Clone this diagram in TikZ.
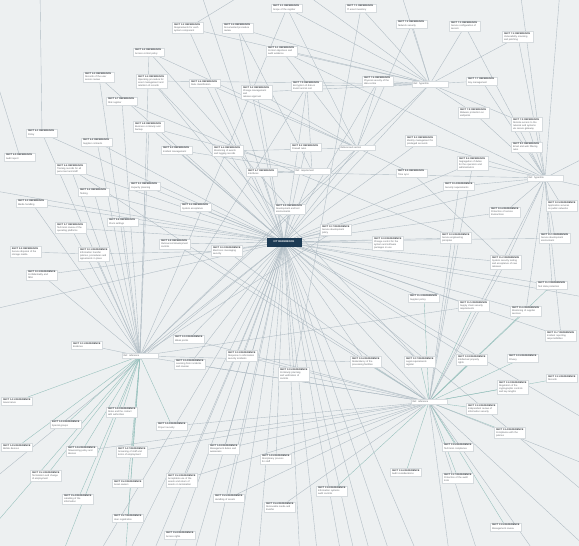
\documentclass[tikz,border=0pt]{standalone}
\usepackage{fontspec}
\setmainfont{Liberation Sans}
\pgfdeclarelayer{bg}
\pgfdeclarelayer{edges}
\pgfsetlayers{bg,edges,main}
\definecolor{canvas}{RGB}{237,240,241}
\definecolor{edgec}{RGB}{176,188,196}
\definecolor{edget}{RGB}{150,192,188}
\definecolor{boxline}{RGB}{214,219,222}
\definecolor{headc}{RGB}{50,55,60}
\definecolor{descc}{RGB}{95,100,105}
\definecolor{hubdark}{RGB}{28,58,84}
\tikzset{
  nbox/.style={draw=boxline, line width=0.25pt, fill=white, inner sep=1.4pt,
    text width=28pt, align=left, font=\fontsize{2.4}{2.9}\selectfont, text=descc},
  hbox/.style={draw=boxline, line width=0.25pt, fill=white, inner sep=1.6pt,
    minimum width=36pt, text width=33pt, align=left, font=\fontsize{2.4}{2.9}\selectfont, text=descc},
  mainhub/.style={fill=hubdark, draw=hubdark, text=white, inner sep=1.6pt,
    minimum width=34pt, minimum height=8pt, font=\bfseries\fontsize{2.6}{3}\selectfont},
  link/.style={draw=edgec, line width=0.38pt},
  tlink/.style={draw=edget, line width=0.38pt}
}
\newcommand{\nb}[5]{\node[nbox] (#1) at (#2,#3) {\textcolor{headc}{\bfseries #4}\\[0.3pt]#5};}
\newcommand{\hb}[4]{\node[hbox] (#1) at (#2,#3) {#4};}
\begin{document}
\begin{tikzpicture}[x=1pt,y=-1pt]
\useasboundingbox (0,0) rectangle (579,546);
\begin{pgfonlayer}{bg}
  \fill[canvas] (0,0) rectangle (579,546);
\end{pgfonlayer}

% ---- hubs ----
\node[mainhub] (C) at (284,242) {ICT REFERENCE};
\hb{H1}{430}{84}{Ref. hyperlink}
\hb{H2}{545}{178}{Ref. hyperlink}
\hb{H3}{140}{356}{Ref. reference}
\hb{H4}{429}{402}{Ref. reference}
\hb{H5}{357}{148}{Referenced section}
\hb{H6}{312}{171}{Ref. requirement}

% ---- upper left ----
\nb{a1}{287}{8}{SECT 2.1 REFERENCE}{Scope of the register}
\nb{a3}{188}{28}{SECT 3.2 REFERENCE}{Requirements for each\\ system component}
\nb{a4}{238}{28}{SECT 3.4 REFERENCE}{Documented procedure\\ review}
\nb{a5}{282}{51}{SECT 5.1 REFERENCE}{Control objectives and\\ audit evidence}
\nb{a6}{149}{52}{SECT 4.2 REFERENCE}{Access control policy}
\nb{a7}{99}{77}{SECT 4.3 REFERENCE}{Records of the user\\ access review}
\nb{a8}{152}{81}{SECT 4.4 REFERENCE}{Operating procedure for\\ asset management and\\ retention of records}
\nb{a9}{205}{83}{SECT 4.6 REFERENCE}{Data classification}
\nb{a10}{257}{92}{SECT 5.2 REFERENCE}{Change management and\\ release approval}
\nb{a11}{122}{101}{SECT 4.7 REFERENCE}{Risk register}
\nb{a12}{149}{127}{SECT 4.8 REFERENCE}{Business continuity and\\ backup}
\nb{a13}{42}{133}{SECT 6.1 REFERENCE}{Policy}
\nb{a14}{97}{142}{SECT 6.2 REFERENCE}{Supplier contracts}
\nb{a15}{177}{150}{SECT 6.3 REFERENCE}{Incident management}
\nb{a16}{228}{151}{SECT 6.4 REFERENCE}{Monitoring of events\\ and logging records}
\nb{a17}{20}{157}{SECT 6.5 REFERENCE}{Audit report}
\nb{a18}{71}{169}{SECT 6.6 REFERENCE}{Training records for all\\ personnel and staff}
\nb{a19}{262}{172}{SECT 6.7 REFERENCE}{Interfaces}

% ---- upper right ----
\nb{a2}{361}{8}{SECT 7.1 REFERENCE}{IT asset inventory}
\nb{b1}{412}{24}{SECT 7.2 REFERENCE}{Network security}
\nb{b2}{465}{26}{SECT 7.3 REFERENCE}{Secure configuration of\\ servers}
\nb{b3}{518}{37}{SECT 7.4 REFERENCE}{Vulnerability scanning\\ and patching}
\nb{b4}{307}{86}{SECT 7.5 REFERENCE}{Encryption of data in\\ transit and at rest}
\nb{b5}{378}{81}{SECT 7.6 REFERENCE}{Physical security of the\\ data centre}
\nb{b6}{482}{81}{SECT 7.7 REFERENCE}{Key management}
\nb{b7}{474}{113}{SECT 7.8 REFERENCE}{Malware protection on\\ endpoints}
\nb{b8}{527}{124}{SECT 7.9 REFERENCE}{Remote access to the\\ network and systems\\ via secure gateway}
\nb{b9}{527}{147}{SECT 8.1 REFERENCE}{Email and web filtering\\ rules}
\nb{b10}{306}{147}{SECT 8.2 REFERENCE}{Firewall rules}
\nb{b11}{421}{141}{SECT 8.3 REFERENCE}{Identity management for\\ privileged accounts}
\nb{b12}{473}{163}{SECT 8.4 REFERENCE}{Segregation of duties\\ for the operators and\\ administrators}
\nb{b13}{412}{173}{SECT 8.5 REFERENCE}{Time sync}

% ---- middle ----
\nb{c1}{145}{186}{SECT 9.1 REFERENCE}{Capacity planning}
\nb{c2}{94}{192}{SECT 9.2 REFERENCE}{Testing}
\nb{c3}{32}{203}{SECT 9.3 REFERENCE}{Media handling}
\nb{c4}{196}{207}{SECT 9.4 REFERENCE}{System acceptance}
\nb{c5}{290}{209}{SECT 9.5 REFERENCE}{Development and test\\ environments}
\nb{c6}{123}{222}{SECT 9.6 REFERENCE}{Clock settings}
\nb{c7}{71}{228}{SECT 9.7 REFERENCE}{Technical review of the\\ operating platforms}
\nb{c8}{175}{244}{SECT 9.8 REFERENCE}{Outsourced development\\ controls}
\nb{c9}{26}{252}{SECT 9.9 REFERENCE}{Secure disposal of the\\ storage media}
\nb{c10}{94}{254}{SECT 10.1 REFERENCE}{Information transfer\\ policies, procedures and\\ agreements in place}
\nb{c11}{227}{251}{SECT 10.2 REFERENCE}{Electronic messaging\\ security}
\nb{c12}{42}{275}{SECT 10.3 REFERENCE}{Confidentiality and\\ NDA}
\nb{d1}{459}{186}{SECT 10.4 REFERENCE}{Security requirements}
\nb{d2}{562}{206}{SECT 10.5 REFERENCE}{Application services\\ on public networks}
\nb{d3}{505}{212}{SECT 10.6 REFERENCE}{Protection of service\\ transactions}
\nb{d4}{336}{230}{SECT 10.7 REFERENCE}{Secure development\\ policy}
\nb{d5}{388}{243}{SECT 10.8 REFERENCE}{Change control for the\\ system and software\\ packages in use}
\nb{d6}{456}{238}{SECT 10.9 REFERENCE}{Secure engineering\\ principles}
\nb{d7}{555}{238}{SECT 11.1 REFERENCE}{Secure development\\ environment}
\nb{d8}{506}{262}{SECT 11.2 REFERENCE}{System security testing\\ and acceptance of new\\ releases}
\nb{d9}{552}{285}{SECT 11.3 REFERENCE}{Test data protection}
\nb{d10}{424}{298}{SECT 11.4 REFERENCE}{Supplier policy}
\nb{d11}{474}{306}{SECT 11.5 REFERENCE}{Supply chain security\\ requirements}
\nb{d12}{526}{311}{SECT 11.6 REFERENCE}{Monitoring of supplier\\ services}
\nb{d13}{561}{336}{SECT 11.7 REFERENCE}{Incident reporting\\ responsibilities}

% ---- lower ----
\nb{c13}{87}{345}{SECT 12.1 REFERENCE}{Evidence}
\nb{c14}{189}{339}{SECT 12.2 REFERENCE}{Weak points}
\nb{c15}{242}{356}{SECT 12.3 REFERENCE}{Response to information\\ security incidents}
\nb{e1}{190}{364}{SECT 12.4 REFERENCE}{Learning from incidents\\ and reviews}
\nb{e2}{294}{374}{SECT 12.5 REFERENCE}{Continuity planning\\ and verification of\\ controls}
\nb{e3}{366}{362}{SECT 12.6 REFERENCE}{Redundancy of the\\ processing facilities}
\nb{e4}{420}{362}{SECT 12.7 REFERENCE}{Legal requirements\\ register}
\nb{e5}{472}{360}{SECT 12.8 REFERENCE}{Intellectual property\\ rights}
\nb{e6}{523}{358}{SECT 12.9 REFERENCE}{Privacy}
\nb{e7}{562}{378}{SECT 13.1 REFERENCE}{Records}
\nb{e8}{513}{387}{SECT 13.2 REFERENCE}{Regulation of the\\ cryptographic controls\\ and key lengths}
\nb{e9}{482}{409}{SECT 13.3 REFERENCE}{Independent review of\\ information security}
\nb{e10}{510}{433}{SECT 13.4 REFERENCE}{Compliance with the\\ policies}
\nb{e11}{458}{447}{SECT 13.5 REFERENCE}{Technical compliance}
\nb{e12}{406}{472}{SECT 13.6 REFERENCE}{Audit considerations}
\nb{e13}{458}{478}{SECT 13.7 REFERENCE}{Protection of the audit\\ tools}
\nb{e14}{332}{491}{SECT 13.8 REFERENCE}{Information systems\\ audit controls}
\nb{e15}{506}{527}{SECT 13.9 REFERENCE}{Management review}
\nb{f1}{17}{401}{SECT 14.1 REFERENCE}{Governance}
\nb{f2}{122}{412}{SECT 14.2 REFERENCE}{Roles and the contact\\ with authorities}
\nb{f3}{66}{424}{SECT 14.3 REFERENCE}{Special groups}
\nb{f4}{172}{426}{SECT 14.4 REFERENCE}{Project security}
\nb{f5}{17}{447}{SECT 14.5 REFERENCE}{Mobile devices}
\nb{f6}{82}{451}{SECT 14.6 REFERENCE}{Teleworking policy and\\ devices}
\nb{f7}{132}{452}{SECT 14.7 REFERENCE}{Screening of staff and\\ terms of employment}
\nb{f8}{224}{449}{SECT 14.8 REFERENCE}{Management duties and\\ awareness}
\nb{f9}{276}{459}{SECT 14.9 REFERENCE}{Disciplinary process\\ for staff}
\nb{f10}{46}{476}{SECT 15.1 REFERENCE}{Termination and change\\ of employment}
\nb{f11}{128}{483}{SECT 15.2 REFERENCE}{Asset owners}
\nb{f12}{182}{480}{SECT 15.3 REFERENCE}{Acceptable use of the\\ assets and return of\\ assets on termination}
\nb{f13}{78}{499}{SECT 15.4 REFERENCE}{Labelling of the\\ information}
\nb{f14}{229}{498}{SECT 15.5 REFERENCE}{Handling of assets}
\nb{f15}{280}{507}{SECT 15.6 REFERENCE}{Removable media and\\ transfer}
\nb{f16}{128}{518}{SECT 15.7 REFERENCE}{User registration}
\nb{f17}{180}{535}{SECT 15.8 REFERENCE}{Access rights}

% ---- far ends of links leaving the view ----
\foreach \i/\x/\y in {1/95/560, 2/125/560, 3/150/560, 4/170/560, 5/192/560, 6/212/560,
  7/236/560, 8/258/560, 9/300/560, 10/318/560, 11/342/560, 12/356/560, 13/392/560,
  14/-10/482, 15/-10/310, 16/-10/190, 17/40/-10, 18/200/-10, 19/600/505, 20/600/428,
  21/600/300, 22/450/560, 23/480/560, 24/60/560, 25/-10/530, 26/300/-10, 27/400/-10,
  28/600/150, 29/600/190, 30/560/-10, 31/520/-10, 32/600/470, 33/372/560, 34/600/560,
  35/-10/60, 36/250/-10, 37/420/560, 38/540/560}
  \coordinate (o\i) at (\x,\y);

\begin{pgfonlayer}{edges}
\begin{scope}
\clip (0,0) rectangle (579,546);
% main hub
\foreach \n in {a3,a4,a8,a9,a10,a12,a14,a15,a16,a19,b4,b5,b10,b11,H5,H6,
  c1,c2,c3,c4,c5,c6,c7,c8,c11,c12,d1,d3,d4,d5,d6,d7,d8,d9,d10,d11,d12,d13,
  e1,e2,e3,e4,e5,H1,H2,H3,H4,c14,c15,f8,f9,f12,f14,a18,a7,b12,a13}
  \draw[link] (C) -- (\n);
\foreach \n in {o1,o2,o3,o4,o5,o6,o7,o8,o9,o10,o11,o12,o13,o14,o15,o16,o18,o19,o20,o21,o33,o37}
  \draw[link] (C) -- (\n);
% lower left hub
\foreach \n in {a7,a11,a12,a14,a18,c1,c2,c3,c6,c7,c10,c12,c13,a6,a13}
  \draw[link] (H3) -- (\n);
\foreach \n in {f1,f2,f3,f4,f6,f7,f10,f11,f13,f16,f5,o24,o25,o2}
  \draw[tlink] (H3) -- (\n);
\foreach \n in {H1,b4,H5,d4,d11,H4,e3}
  \draw[link] (H3) -- (\n);
% lower right hub
\foreach \n in {e3,e4,e5,e6,e7,e8,e9,e10,e11,e12,e13,e14,e15,d10,d11,d12,d9}
  \draw[tlink] (H4) -- (\n);
\foreach \n in {f8,f9,f12,f14,f15,e1,e2,c15,c14,f4,f7,f6,d1,d6,H2,d8,b12,
  o22,o23,o32,o34,o38,c8,c11}
  \draw[link] (H4) -- (\n);
% upper hubs
\foreach \n in {b1,b2,b3,b5,b6,a1,a2,a4,a3,a8,a10,b4,b8,b7,a5,o26,o27}
  \draw[link] (H1) -- (\n);
\foreach \n in {b7,b8,b9,b12,d1,d2,d3,d7,d8,d9,d12,b2,b3,b6,b11,a5,a19,d13,o28,o29,o30,o31}
  \draw[link] (H2) -- (\n);
\foreach \n in {a5,a10,a16,b5,a9,b1,a6,a1}
  \draw[link] (H5) -- (\n);
\foreach \n in {a19,b4,a4,a15,a12}
  \draw[link] (H6) -- (\n);
% cross links
\draw[link] (c9) -- (c10) -- (c11);
\draw[link] (a6) -- (c5);
\draw[link] (a18) -- (H4);
\draw[link] (a17) -- (o35);
\draw[link] (a13) -- (o17);
\draw[link] (a11) -- (d6);
\draw[link] (a8) -- (e4);
\draw[link] (a3) -- (o36);
\draw[link] (b13) -- (H5);
\draw[link] (b13) -- (d8);
\draw[link] (a2) -- (e2);
\draw[link] (a1) -- (H3);
\end{scope}
\end{pgfonlayer}
\end{tikzpicture}
\end{document}
